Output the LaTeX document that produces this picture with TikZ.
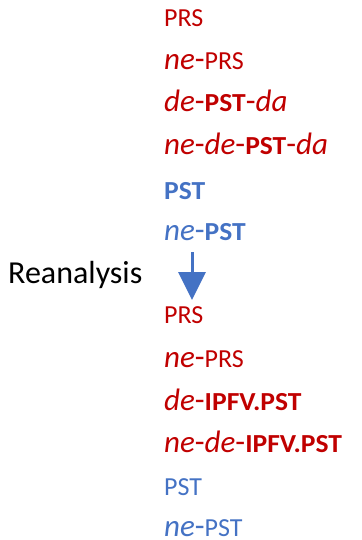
\documentclass[tikz,border=0pt]{standalone}
\usepackage{fontspec}
\setmainfont{Carlito}
\newfontfamily\glbf{Carlito}[FakeStretch=1.06]
\usetikzlibrary{arrows.meta}
\definecolor{glred}{HTML}{C00000}
\definecolor{glblue}{HTML}{4472C4}
\newcommand{\redcol}{glred}
\newcommand{\bluecol}{glblue}
\newcommand{\morph}[1]{{\fontsize{31}{34}\selectfont\itshape #1}}
\newcommand{\gl}[1]{{\fontsize{26}{29}\selectfont #1}}
\newcommand{\glb}[1]{{\fontsize{26}{29}\selectfont\glbf\bfseries #1}}
\tikzset{
  gloss/.style={anchor=base west, inner sep=0pt, font=\fontsize{32}{35}\selectfont},
}

\begin{document}
\begin{tikzpicture}[x=1pt, y=-1pt]

    \useasboundingbox (0, 0) rectangle (361, 540);

    % before
    \node[gloss, \redcol] (a1) at (164, 27) {\gl{PRS}};
    \node[gloss, \redcol] (a2) at (164, 70) {\morph{ne}-\gl{PRS}};
    \node[gloss, \redcol] (a3) at (164, 112) {\morph{de}-\glb{PST}-\morph{da}};
    \node[gloss, \redcol] (a4) at (164, 155) {\morph{ne}-\morph{de}-\glb{PST}-\morph{da}};
    \node[gloss, \bluecol] (a5) at (164, 199) {\glb{PST}};
    \node[gloss, \bluecol] (a6) at (164, 240) {\morph{ne}-\glb{PST}};

    \node[anchor=base west, inner sep=0pt, font=\fontsize{32}{35}\selectfont] (rean) at (8, 283) {Reanalysis};

    \coordinate (arrtop) at (192, 252);
    \coordinate (arrtip) at (192, 300);
    \draw[\bluecol, line width=3pt, -{Triangle[width=27pt, length=28pt]}] (arrtop) -- (arrtip);

    % after
    \node[gloss, \redcol] (b1) at (164, 323) {\gl{PRS}};
    \node[gloss, \redcol] (b2) at (164, 367) {\morph{ne}-\gl{PRS}};
    \node[gloss, \redcol] (b3) at (164, 410) {\morph{de}-\glb{IPFV.PST}};
    \node[gloss, \redcol] (b4) at (164, 452) {\morph{ne}-\morph{de}-\glb{IPFV.PST}};
    \node[gloss, \bluecol] (b5) at (164, 495) {\gl{PST}};
    \node[gloss, \bluecol] (b6) at (164, 536) {\morph{ne}-\gl{PST}};

\end{tikzpicture}
\end{document}
